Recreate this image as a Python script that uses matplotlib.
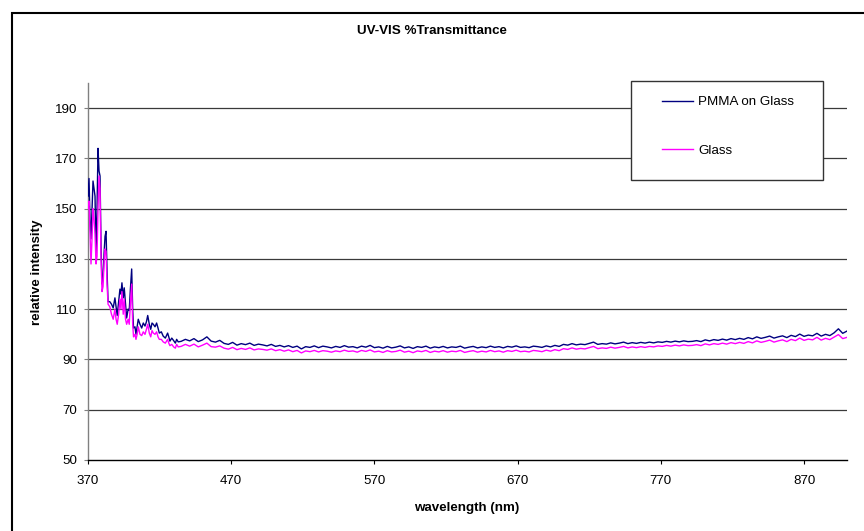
import matplotlib
matplotlib.use("Agg")
import matplotlib.pyplot as plt
from matplotlib.patches import Rectangle
from matplotlib.lines import Line2D

plt.rcParams['font.family'] = ['Liberation Sans', 'DejaVu Sans']

# steep noisy start (nm)
head_nm = [370.0, 370.7, 371.4, 372.1, 372.8, 373.5, 374.2, 374.9, 375.6, 376.3,
           377.0, 377.7, 378.4, 379.1, 379.8, 380.5, 381.2, 381.9, 382.6, 383.3,
           384.0, 385.2, 386.4, 387.6, 388.8, 389.6, 390.4, 391.4, 392.3, 393.0,
           393.7, 394.6, 395.3, 396.2, 397.0, 398.0, 398.8, 399.6, 400.5, 401.2,
           401.8, 402.8, 403.5, 404.3, 405.1, 406.3, 407.5, 408.6, 409.8, 410.8,
           411.7, 412.8, 413.8, 414.7, 415.6, 416.8, 417.9, 418.9, 419.8, 421.2,
           422.5, 424.0, 425.6, 426.4, 427.2, 428.5, 429.8, 431.0, 431.9, 433.0]
head_pmma = [155, 162, 146, 138, 150, 161, 158, 155, 132, 150,
             174, 165, 163, 135, 120, 122, 132, 139, 141, 125,
             113, 113, 112, 110.5, 114.5, 111, 107.5, 113, 118, 116,
             120.5, 114.5, 118.5, 112, 106.5, 110, 109.5, 118, 126, 110,
             102.5, 103, 100, 103, 106, 104, 102.5, 104.5, 103.3, 105,
             107.5, 104, 102, 104.5, 104, 103, 104.5, 102.5, 100.5, 101,
             99.3, 98.5, 100.5, 99, 97.3, 98.5, 97.5, 96.5, 98, 97]
head_glass = [150, 153, 140, 128, 138, 150, 146, 140, 128, 131,
              150, 163, 158, 130, 117, 119, 128, 134, 133, 120,
              112, 111, 108, 106, 110, 106, 104, 108, 114, 110,
              117, 108, 114, 106, 104, 106, 104, 112, 120, 104,
              99, 100, 98, 100, 103, 100, 99.5, 101, 100, 102,
              104, 100.5, 99, 101.5, 100.5, 100, 101, 99, 98, 98,
              97, 96.5, 98, 96.5, 95.5, 96, 95, 94.5, 96, 95]

# flat part, every 3 nm
tail_nm = [435, 438, 441, 444, 447, 450, 453, 456, 459, 462,
           465, 468, 471, 474, 477, 480, 483, 486, 489, 492,
           495, 498, 501, 504, 507, 510, 513, 516, 519, 522,
           525, 528, 531, 534, 537, 540, 543, 546, 549, 552,
           555, 558, 561, 564, 567, 570, 573, 576, 579, 582,
           585, 588, 591, 594, 597, 600, 603, 606, 609, 612,
           615, 618, 621, 624, 627, 630, 633, 636, 639, 642,
           645, 648, 651, 654, 657, 660, 663, 666, 669, 672,
           675, 678, 681, 684, 687, 690, 693, 696, 699, 702,
           705, 708, 711, 714, 717, 720, 723, 726, 729, 732,
           735, 738, 741, 744, 747, 750, 753, 756, 759, 762,
           765, 768, 771, 774, 777, 780, 783, 786, 789, 792,
           795, 798, 801, 804, 807, 810, 813, 816, 819, 822,
           825, 828, 831, 834, 837, 840, 843, 846, 849, 852,
           855, 858, 861, 864, 867, 870, 873, 876, 879, 882,
           885, 888, 891, 894, 897, 900]
tail_pmma = [97.2, 98.0, 97.4, 98.3, 97.1, 97.8, 99.0, 97.3, 96.9, 97.6,
             96.4, 96.0, 96.8, 95.7, 96.3, 95.9, 96.5, 95.6, 96.1, 95.8,
             95.4, 96.0, 95.2, 95.6, 95.0, 95.5, 94.8, 95.3, 94.2, 95.1,
             94.8, 95.4, 94.7, 95.3, 95.0, 94.6, 95.2, 94.8, 95.5, 94.9,
             95.1, 94.6, 95.3, 94.9, 95.6, 94.7, 95.0, 94.5, 95.2, 94.6,
             94.9, 95.4, 94.6, 95.0, 94.4, 95.1, 94.8, 95.3, 94.5, 95.0,
             94.7, 95.2, 94.6, 95.0, 94.8, 95.3, 94.5, 94.9, 95.2, 94.6,
             95.0, 94.7, 95.3, 94.8, 95.1, 94.6, 95.2, 94.9, 95.4, 94.8,
             95.0, 94.7, 95.3, 95.1, 94.8, 95.4, 95.0, 95.6, 95.2, 96.0,
             95.7, 96.3, 95.8, 96.1, 95.9, 96.4, 96.9, 96.0, 96.3, 96.1,
             96.6, 96.2, 96.5, 96.9, 96.3, 96.7, 96.4, 96.8, 96.5, 96.9,
             96.6, 97.0, 96.8, 97.2, 96.9, 97.3, 97.0, 97.4, 97.1, 97.2,
             97.5, 97.1, 97.8, 97.4, 97.9, 97.6, 98.1, 97.7, 98.3, 97.9,
             98.4, 98.0, 98.7, 98.2, 99.0, 98.4, 98.8, 99.3, 98.5, 99.0,
             99.4, 98.7, 99.6, 99.1, 100.1, 99.2, 99.7, 99.4, 100.4, 99.3,
             100.0, 99.5, 100.6, 102.2, 100.4, 101.3]
tail_glass = [95.2, 96.0, 95.3, 96.1, 95.0, 95.7, 96.5, 95.1, 94.9, 95.4,
              94.5, 94.1, 94.8, 93.9, 94.4, 94.0, 94.6, 93.8, 94.2, 94.0,
              93.7, 94.2, 93.5, 93.9, 93.3, 93.8, 93.1, 93.6, 92.6, 93.4,
              93.1, 93.6, 93.0, 93.5, 93.3, 92.9, 93.4, 93.1, 93.7, 93.2,
              93.4, 92.9, 93.6, 93.2, 93.8, 93.0, 93.3, 92.8, 93.5, 93.0,
              93.2, 93.7, 92.9, 93.3, 92.7, 93.4, 93.1, 93.6, 92.8, 93.3,
              93.0, 93.5, 92.9, 93.3, 93.1, 93.6, 92.8, 93.2, 93.5, 92.9,
              93.3, 93.0, 93.6, 93.1, 93.4, 92.9, 93.5, 93.2, 93.7, 93.1,
              93.3, 93.0, 93.6, 93.4, 93.1, 93.7, 93.3, 93.9, 93.5, 94.3,
              94.0, 94.6, 94.1, 94.4, 94.2, 94.7, 95.2, 94.3, 94.6, 94.4,
              94.9, 94.5, 94.8, 95.2, 94.6, 95.0, 94.7, 95.1, 94.8, 95.2,
              95.0, 95.4, 95.2, 95.6, 95.3, 95.7, 95.4, 95.8, 95.5, 95.6,
              95.9, 95.5, 96.2, 95.8, 96.3, 96.0, 96.5, 96.1, 96.7, 96.3,
              96.8, 96.4, 97.1, 96.6, 97.4, 96.8, 97.2, 97.7, 96.9, 97.4,
              97.8, 97.1, 98.0, 97.5, 98.5, 97.6, 98.1, 97.8, 98.8, 97.7,
              98.4, 97.9, 98.9, 99.9, 98.3, 98.8]

wavelength = head_nm + tail_nm
pmma = head_pmma + tail_pmma
glass = head_glass + tail_glass

x_ticks = [370, 470, 570, 670, 770, 870]
y_ticks = [50, 70, 90, 110, 130, 150, 170, 190]

W, H = 864, 531
fig = plt.figure(figsize=(W / 100, H / 100), dpi=100)
ax = fig.add_axes([88 / W, 1 - 460 / H, (847 - 88) / W, (460 - 83) / H])

ax.plot(wavelength, pmma, color='#000080', lw=1.0, label='PMMA on Glass', zorder=3)
ax.plot(wavelength, glass, color='#ff00ff', lw=1.0, label='Glass', zorder=4)

ax.set_xlim(370, 900)
ax.set_ylim(50, 200)
ax.set_xticks(x_ticks)
ax.set_yticks(y_ticks)
for v in y_ticks[1:]:
    ax.axhline(v, color='#3a3a3a', lw=0.9, zorder=1)

for s in ['top', 'right']:
    ax.spines[s].set_visible(False)
ax.spines['left'].set_color('#808080')
ax.spines['left'].set_linewidth(1.0)
ax.spines['bottom'].set_color('black')
ax.spines['bottom'].set_linewidth(1.0)
ax.tick_params(axis='x', length=3, width=0.8, color='black', pad=8, labelsize=9.6)
ax.tick_params(axis='y', length=3, width=0.8, color='#808080', pad=5, labelsize=9.6)

fig.text(432 / W, 1 - 31 / H, 'UV-VIS %Transmittance', ha='center', va='center',
         fontsize=9.6, fontweight='bold')
fig.text(467 / W, 1 - 508 / H, 'wavelength (nm)', ha='center', va='center',
         fontsize=9.6, fontweight='bold')
fig.text(37 / W, 1 - 272 / H, 'relative intensity', ha='center', va='center',
         rotation=90, fontsize=9.6, fontweight='bold')

# legend box drawn over the gridlines
box = Rectangle((631 / W, 1 - 180 / H), (823 - 631) / W, (180 - 81) / H,
                transform=fig.transFigure, facecolor='white', edgecolor='#333333',
                lw=1.0, zorder=5)
fig.patches.append(box)
handles = [Line2D([], [], color='#000080', lw=1.0), Line2D([], [], color='#ff00ff', lw=1.0)]
leg = fig.legend(handles, ['PMMA on Glass', 'Glass'], loc='upper left',
                 bbox_to_anchor=(662 / W, 1 - 96 / H), bbox_transform=fig.transFigure,
                 frameon=False, fontsize=9.6, borderpad=0, borderaxespad=0,
                 handlelength=2.3, handletextpad=0.4, labelspacing=2.7)
leg.set_zorder(6)

# outer chart frame (cropped at right and bottom)
frame = Rectangle((12 / W, -0.2), 1.3, (1 - 13 / H) + 0.2, transform=fig.transFigure,
                  facecolor='none', edgecolor='black', lw=1.5, zorder=7, clip_on=False)
fig.patches.append(frame)

fig.savefig('out.png', dpi=100)
